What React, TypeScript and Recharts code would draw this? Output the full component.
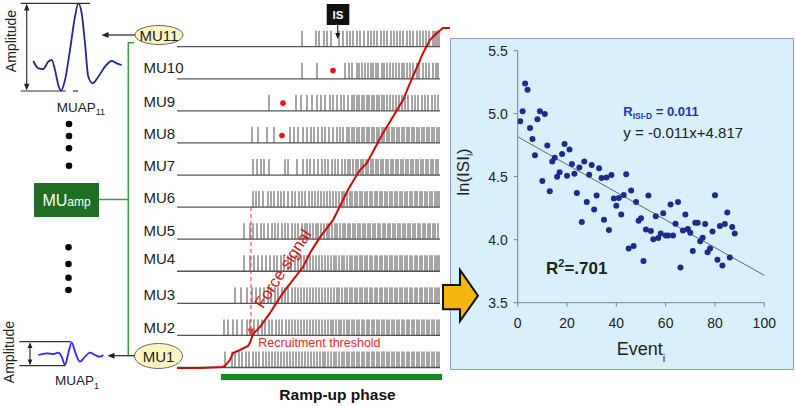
import React from 'react';
import { ComposedChart, ScatterChart, LineChart, Scatter, Line, XAxis, YAxis, ReferenceLine } from 'recharts';

const FONT = '"Liberation Sans", Arial, Helvetica, sans-serif';

// ---------- Scatter panel data: ln(ISI_i) vs Event_i ----------
const eventIndex = [
  1, 2, 3, 4, 5, 6, 7, 8, 9, 10, 11, 12, 13, 14, 15, 16, 17, 18, 19, 20, 21, 22,
  23, 24, 25, 26, 27, 28, 29, 30, 31, 32, 33, 34, 35, 36, 37, 38, 39, 40, 41, 42, 43, 44,
  45, 46, 47, 48, 49, 50, 51, 52, 53, 54, 55, 56, 57, 58, 59, 60, 61, 62, 63, 64, 65, 66,
  67, 68, 69, 70, 71, 72, 73, 74, 75, 76, 77, 78, 79, 80, 81, 82, 83, 84, 85, 86, 87, 88,
];
const lnIsi = [
  4.94, 5.02, 5.24, 5.19, 4.886, 4.8, 4.67, 4.955, 5.02, 4.466, 4.997, 4.747, 4.384, 4.62, 4.65, 4.5, 4.535, 4.68, 4.76, 4.508, 4.715, 4.6,
  4.524, 4.37, 4.574, 4.14, 4.62, 4.3, 4.516, 4.593, 4.24, 4.35, 4.567, 4.49, 4.158, 4.494, 4.076, 4.513, 4.326, 4.27, 4.33, 4.2, 4.355, 4.52,
  3.93, 4.39, 3.95, 4.3, 4.15, 4.17, 3.83, 4.08, 4.35, 4.07, 4.003, 4.187, 4.013, 4.05, 4.21, 4.034, 4.034, 4.28, 4.034, 4.126, 4.3, 3.78,
  4.074, 4.2, 4.084, 4.055, 3.91, 4.134, 4.134, 3.987, 4.016, 4.124, 3.9, 3.93, 4.066, 4.353, 3.84, 4.108, 3.795, 4.124, 4.216, 3.858, 4.1, 4.05,
];
const trendX = [0, 100];
const trendY = [4.817, 3.717];
const xTicks = [0, 20, 40, 60, 80, 100];
const yTicks = [3.5, 4.0, 4.5, 5.0, 5.5];

// ---------- Spike trains (time in a.u., 0..270) ----------
const muRows = [1, 2, 3, 4, 5, 6, 7, 8, 9, 10, 11];
const spikesMU1 = [48, 55, 58, 62, 65, 69, 72, 76, 79, 82, 86, 89, 92, 95, 98, 101, 104, 107, 110, 113, 116, 119, 122, 125, 128, 131, 134, 137, 140, 143, 146, 148, 151, 154, 157, 159, 162, 165, 167, 170, 172, 175, 177, 180, 182, 185, 187, 190, 192, 195, 197, 200, 202, 205, 207, 210, 212, 215, 217, 220, 222, 225, 227, 230, 232, 235, 237, 240, 242, 245, 247, 250, 252, 255, 257, 260, 262];
const spikesMU2 = [47, 51, 56, 60, 65, 70, 73, 77, 81, 85, 88, 92, 95, 99, 102, 105, 109, 112, 115, 118, 121, 124, 127, 130, 133, 136, 139, 142, 145, 148, 151, 154, 156, 159, 162, 164, 167, 170, 172, 175, 177, 180, 182, 185, 187, 190, 192, 195, 197, 200, 202, 205, 207, 210, 212, 215, 217, 220, 222, 225, 227, 230, 232, 235, 237, 240, 242, 245, 247, 250, 252, 255, 257, 260, 262];
const spikesMU3 = [58, 64, 70, 75, 79, 83, 87, 91, 94, 98, 101, 105, 108, 111, 115, 118, 121, 124, 127, 130, 133, 136, 139, 142, 145, 148, 151, 154, 157, 160, 162, 165, 168, 170, 173, 175, 178, 180, 183, 185, 188, 190, 193, 195, 198, 200, 203, 205, 208, 210, 213, 215, 218, 220, 223, 225, 228, 230, 233, 235, 238, 240, 243, 245, 248, 250, 253, 255, 258, 260, 262];
const spikesMU4 = [67, 73, 77, 81, 85, 89, 93, 97, 100, 104, 107, 111, 114, 118, 121, 124, 127, 130, 133, 136, 139, 142, 145, 148, 151, 154, 157, 159, 162, 165, 167, 170, 173, 175, 178, 180, 183, 185, 188, 190, 193, 195, 198, 200, 203, 205, 208, 210, 213, 215, 218, 220, 223, 225, 228, 230, 233, 235, 238, 240, 243, 245, 248, 250, 253, 255, 258, 260, 262];
const spikesMU5 = [67, 73, 76, 80, 84, 87, 91, 95, 98, 101, 105, 108, 111, 115, 118, 121, 125, 128, 130, 133, 136, 139, 141, 144, 147, 150, 152, 155, 158, 160, 163, 166, 168, 171, 173, 176, 178, 181, 183, 186, 188, 191, 193, 196, 198, 201, 203, 206, 208, 211, 213, 216, 218, 221, 223, 226, 228, 231, 233, 236, 238, 241, 243, 246, 248, 251, 253, 256, 258, 261];
const spikesMU6 = [76, 79, 82, 86, 91, 94, 97, 101, 104, 107, 111, 115, 118, 122, 125, 128, 132, 135, 138, 141, 144, 147, 150, 153, 156, 159, 162, 165, 167, 170, 173, 175, 178, 180, 183, 185, 188, 190, 193, 195, 198, 200, 203, 205, 208, 210, 213, 215, 218, 220, 223, 225, 228, 230, 233, 235, 238, 240, 243, 245, 248, 250, 253, 255, 258, 260, 262];
const spikesMU7 = [76, 80, 84, 87, 92, 108, 111, 120, 126, 130, 133, 137, 141, 145, 148, 151, 155, 158, 161, 165, 168, 171, 173, 176, 179, 181, 184, 186, 189, 191, 194, 196, 199, 201, 204, 206, 209, 211, 214, 216, 219, 221, 224, 226, 229, 231, 234, 236, 239, 241, 244, 246, 249, 251, 254, 256, 259, 261];
const spikesMU8 = [75, 81, 90, 97, 113, 117, 121, 126, 130, 134, 137, 141, 145, 148, 152, 156, 160, 163, 166, 170, 172, 175, 177, 180, 182, 185, 187, 190, 192, 195, 197, 200, 202, 205, 207, 210, 212, 215, 217, 220, 222, 225, 227, 230, 232, 235, 237, 240, 242, 245, 247, 250, 252, 255, 257, 260, 262];
const spikesMU9 = [92, 119, 124, 130, 135, 140, 144, 148, 153, 156, 160, 164, 167, 171, 175, 177, 180, 182, 185, 187, 190, 192, 195, 197, 200, 202, 205, 207, 210, 213, 216, 219, 222, 225, 228, 231, 235, 238, 241, 245, 248, 251, 255, 258, 261];
const spikesMU10 = [125, 140, 168, 172, 175, 180, 182, 185, 188, 191, 194, 196, 199, 201, 205, 207, 210, 213, 216, 219, 222, 225, 227, 230, 233, 236, 240, 242, 246, 249, 252, 256, 259, 261];
const spikesMU11 = [125, 139, 142, 147, 150, 154, 162, 166, 170, 173, 176, 180, 183, 187, 191, 194, 197, 200, 204, 207, 210, 214, 217, 220, 223, 226, 230, 233, 236, 240, 243, 246, 249, 252, 256, 258, 260, 262];
const spikeRows = [spikesMU1, spikesMU2, spikesMU3, spikesMU4, spikesMU5, spikesMU6, spikesMU7, spikesMU8, spikesMU9, spikesMU10, spikesMU11];

// missing-discharge markers (red dots)
const missedTime = [156, 106, 105];
const missedRow = [10.26, 9.24, 8.23];

// Force signal (% of max) over the same time axis
const forceTime = [0, 23, 45, 48, 53, 56, 63, 71, 73, 76, 83, 93, 98, 106, 116, 126, 133, 143, 156, 166, 171, 178, 183, 190, 198, 206, 213, 220, 226, 233, 240, 246, 253, 260, 266, 273];
const forceLevel = [0, 0, 0.3, 0.6, 2.4, 4.4, 5.3, 6.5, 7.4, 10, 12.1, 16.2, 18.5, 22.1, 25.9, 29.7, 33.8, 38.5, 43.5, 49.4, 52.4, 55.9, 58.2, 60.3, 64.7, 69.1, 72.4, 75.9, 78.8, 83.8, 88.5, 92.6, 96.5, 98.5, 100, 100];

// MUAP waveforms
const muap11Time = [0.3, 5.3, 10.3, 15.3, 18.7, 22, 25.3, 28, 32, 37, 42, 45.3, 48.7, 52, 55.3, 59.7, 65.3, 72, 78.7, 83.7, 88.7];
const muap11Amp = [0, -7.3, -8, -0.7, 1, -9, -24, -29.7, -19, 11, 44.3, 57.7, 47.7, 17.7, -15.7, -22.3, -15.7, -5.7, 0, -2.3, -4];
const muap1Time = [0.3, 8.7, 15.3, 20.3, 23.7, 27, 30.3, 33.7, 37, 42, 47, 52, 57, 62, 65.3];
const muap1Amp = [0, 1.7, 1, 2.3, -1.7, -10, 1.7, 12.3, 3.3, -6.7, -1.7, 2.3, 0, -1.7, 0];

const muLabels = ['MU2', 'MU3', 'MU4', 'MU5', 'MU6', 'MU7', 'MU8', 'MU9', 'MU10'];

// ---------- derived tables ----------
const scatterData = eventIndex.map((e, i) => ({ x: e, y: lnIsi[i] }));
const spikeData = spikeRows.map((arr, k) => arr.map((t) => ({ t, row: muRows[k] })));
const missedData = missedTime.map((t, i) => ({ t, row: missedRow[i] }));
const forceData = forceTime.map((t, i) => ({ t, f: forceLevel[i] }));
const muap11Data = muap11Time.map((t, i) => ({ t, v: muap11Amp[i] }));
const muap1Data = muap1Time.map((t, i) => ({ t, v: muap1Amp[i] }));

const Spike = (p: any) => (
  <line x1={p.cx} x2={p.cx} y1={p.cy} y2={p.cy - 16} stroke="#4d4d4d" strokeWidth={1} />
);
const RedDot = (p: any) => <circle cx={p.cx} cy={p.cy} r={2.8} fill="#ee1111" />;
const BlueDot = (p: any) => <circle cx={p.cx} cy={p.cy} r={3} fill="#1c2b8f" />;
const NoMark = () => <g />;

export default function App() {
  return (
    <div style={{ position: 'absolute', left: 0, top: 0, width: 796, height: 406, background: '#fff', overflow: 'hidden', fontFamily: FONT }}>
      {/* scatter panel background */}
      <div style={{ position: 'absolute', left: 450, top: 38, width: 344, height: 332, background: '#d7f0fb', border: '1.5px solid #8aa0cc', boxSizing: 'border-box' }} />
      <div style={{ position: 'absolute', left: 450, top: 38 }}>
        <ScatterChart width={344} height={332} margin={{ top: 12.7, right: 29.7, bottom: 0, left: 0 }}>
          <XAxis type="number" dataKey="x" domain={[0, 100]} ticks={xTicks} height={67.3} tickSize={4} tickMargin={11}
            axisLine={{ stroke: '#808080' }} tickLine={{ stroke: '#808080' }} tick={{ fill: '#222', fontSize: 14, fontFamily: FONT }} allowDataOverflow />
          <YAxis type="number" dataKey="y" domain={[3.5, 5.5]} ticks={yTicks} width={67.7} tickSize={4} tickMargin={6}
            tickFormatter={(v: number) => v.toFixed(1)}
            axisLine={{ stroke: '#808080' }} tickLine={{ stroke: '#808080' }} tick={{ fill: '#222', fontSize: 14, fontFamily: FONT }} allowDataOverflow />
          <ReferenceLine segment={[{ x: trendX[0], y: trendY[0] }, { x: trendX[1], y: trendY[1] }]} stroke="#666" strokeWidth={1} ifOverflow="visible" />
          <Scatter data={scatterData} isAnimationActive={false} shape={BlueDot} />
        </ScatterChart>
      </div>

      {/* spike trains + force signal */}
      <div style={{ position: 'absolute', left: 0, top: 0 }}>
        <ComposedChart width={450} height={406} margin={{ top: 0, right: 0, bottom: 0, left: 0 }}>
          <XAxis type="number" dataKey="t" domain={[-177, 273]} hide allowDataOverflow />
          <YAxis yAxisId="row" type="number" dataKey="row" domain={[-0.2, 12.456]} hide allowDataOverflow />
          <YAxis yAxisId="force" type="number" dataKey="f" domain={[-11.176, 108.235]} hide allowDataOverflow />
          {muRows.map((r) => (
            <ReferenceLine key={'b' + r} yAxisId="row" segment={[{ x: 0, y: r }, { x: 263, y: r }]} stroke="#555" strokeWidth={1.3} ifOverflow="visible" />
          ))}
          {spikeData.map((d, k) => (
            <Scatter key={'s' + k} yAxisId="row" data={d} isAnimationActive={false} shape={Spike} />
          ))}
          <Scatter yAxisId="row" data={missedData} isAnimationActive={false} shape={RedDot} />
          <Scatter yAxisId="force" data={forceData} isAnimationActive={false} shape={NoMark}
            line={{ stroke: '#cc0a0a', strokeWidth: 2 }} lineType="joint" />
        </ComposedChart>
      </div>

      {/* MUAP 11 */}
      <div style={{ position: 'absolute', left: 30, top: 0 }}>
        <LineChart width={95} height={94} margin={{ top: 3, right: 3, bottom: 3, left: 3 }}>
          <XAxis type="number" dataKey="t" domain={[0, 89]} hide />
          <YAxis type="number" dataKey="v" domain={[-30, 58]} hide />
          <Line data={muap11Data} dataKey="v" type="monotone" stroke="#1f2a8c" strokeWidth={1.8} dot={false} activeDot={false} isAnimationActive={false} />
        </LineChart>
      </div>
      {/* MUAP 1 */}
      <div style={{ position: 'absolute', left: 35, top: 338 }}>
        <LineChart width={72} height={31} margin={{ top: 3, right: 3, bottom: 3, left: 3 }}>
          <XAxis type="number" dataKey="t" domain={[0, 66]} hide />
          <YAxis type="number" dataKey="v" domain={[-11, 14]} hide />
          <Line data={muap1Data} dataKey="v" type="monotone" stroke="#2a2af0" strokeWidth={1.8} dot={false} activeDot={false} isAnimationActive={false} />
        </LineChart>
      </div>

      {/* annotations */}
      <svg width={796} height={406} style={{ position: 'absolute', left: 0, top: 0, pointerEvents: 'none' }} fontFamily={FONT}>
        {/* MUAP11 amplitude bracket */}
        <g stroke="#333" strokeWidth={1.2}>
          <line x1={20.7} y1={3.3} x2={90} y2={3.3} />
          <line x1={20.7} y1={91} x2={66} y2={91} />
          <line x1={73} y1={91} x2={78} y2={91} />
          <line x1={26.7} y1={8} x2={26.7} y2={86} />
        </g>
        <polygon points="26.7,3.8 24,10.5 29.4,10.5" fill="#222" />
        <polygon points="26.7,90.5 24,83.8 29.4,83.8" fill="#222" />
        <text transform="translate(16,41) rotate(-90)" textAnchor="middle" fontSize={14} fill="#222">Amplitude</text>
        <text x={56.7} y={111.7} fontSize={13.5} fill="#222">MUAP<tspan fontSize={9} dy={3.5}>11</tspan></text>

        {/* MUAP1 amplitude bracket */}
        <g stroke="#333" strokeWidth={1.2}>
          <line x1={19.3} y1={341.7} x2={71} y2={341.7} />
          <line x1={19.3} y1={365.7} x2={65} y2={365.7} />
          <line x1={30} y1={346} x2={30} y2={361} />
        </g>
        <polygon points="30,342.2 27.6,348 32.4,348" fill="#222" />
        <polygon points="30,365.2 27.6,359.4 32.4,359.4" fill="#222" />
        <text transform="translate(13.5,352) rotate(-90)" textAnchor="middle" fontSize={14} fill="#222">Amplitude</text>
        <text x={55} y={385} fontSize={13.5} fill="#222">MUAP<tspan fontSize={9} dy={3.5}>1</tspan></text>

        {/* dots */}
        {[124, 136, 148.3, 165.7].map((y) => <circle key={'d1' + y} cx={69} cy={y} r={3.3} fill="#000" />)}
        {[247.3, 264, 277.7, 290].map((y) => <circle key={'d2' + y} cx={68.5} cy={y} r={3.3} fill="#000" />)}

        {/* MUamp box + green bracket */}
        <rect x={34} y={183} width={65} height={34} fill="#1f6e22" />
        <text x={66.5} y={206} textAnchor="middle" fill="#fff" fontSize={16}>MU<tspan fontSize={12}>amp</tspan></text>
        <path d="M134,42.7 H128.3 V355.7" fill="none" stroke="#3f9a3f" strokeWidth={1.5} />
        <line x1={99} y1={199.5} x2={128.3} y2={199.5} stroke="#3f9a3f" strokeWidth={1.5} />

        {/* ellipses and arrows */}
        <line x1={107} y1={35} x2={135} y2={35} stroke="#222" strokeWidth={1.2} />
        <polygon points="101.5,35 108.5,32 108.5,38" fill="#222" />
        <ellipse cx={159} cy={35} rx={24} ry={9.5} fill="#fbf5bf" stroke="#666" strokeWidth={1} />
        <text x={159} y={40.5} textAnchor="middle" fontSize={15} fill="#222">MU11</text>
        <line x1={113} y1={355.7} x2={134.5} y2={355.7} stroke="#222" strokeWidth={1.2} />
        <polygon points="107.5,355.7 114.5,352.7 114.5,358.7" fill="#222" />
        <ellipse cx={158.5} cy={356} rx={24} ry={12.5} fill="#fbf5bf" stroke="#666" strokeWidth={1} />
        <text x={158.5} y={361.5} textAnchor="middle" fontSize={15} fill="#222">MU1</text>

        {/* MU labels */}
        {muLabels.map((lab, i) => (
          <text key={lab} x={143.5} y={[332.7, 299.5, 264, 236, 203, 170.7, 139.3, 106.7, 73.3][i]} fontSize={15} fill="#222">{lab}</text>
        ))}

        {/* IS marker */}
        <rect x={326.7} y={4} width={22.6} height={21} fill="#111" />
        <text x={338} y={19} textAnchor="middle" fontSize={11.5} fontWeight="bold" fill="#fff">IS</text>
        <line x1={337.7} y1={25} x2={337.7} y2={34} stroke="#111" strokeWidth={1} />
        <polygon points="337.7,39 335.2,33 340.2,33" fill="#111" />

        {/* recruitment threshold */}
        <line x1={251} y1={207} x2={251} y2={329} stroke="#ee3333" strokeWidth={1} strokeDasharray="4 3" />
        <polygon points="251,336 247.5,328.5 254.5,328.5" fill="#ee3333" />
        <text x={258.3} y={346.7} fontSize={12.5} fill="#ee2a2a">Recruitment threshold</text>
        <text transform="translate(282.5,268.5) rotate(-56.8)" textAnchor="middle" dominantBaseline="central" fontSize={16.5} fill="#d61010">Force signal</text>

        {/* ramp-up phase */}
        <rect x={221} y={374} width={221} height={6} fill="#13891b" />
        <text x={337.5} y={400} textAnchor="middle" fontSize={15.5} fontWeight="bold" fill="#111">Ramp-up phase</text>

        {/* yellow arrow */}
        <polygon points="443,285 460,285 460,270 478,295.7 460,321 460,309.3 443,309.3" fill="#f6b40e" stroke="#111" strokeWidth={2} strokeLinejoin="miter" />

        {/* scatter annotations */}
        <text transform="translate(469,172) rotate(-90)" textAnchor="middle" fontSize={17} fill="#222">ln(ISI<tspan fontSize={10} dy={4}>i</tspan><tspan dy={-4}>)</tspan></text>
        <text x={616.7} y={355} fontSize={18} fill="#222">Event<tspan fontSize={11} dy={7}>i</tspan></text>
        <text x={623.3} y={116} fontSize={13} fontWeight="bold" fill="#2233b8">R<tspan fontSize={8.5} dy={3}>ISI-D</tspan><tspan dy={-3}> = 0.011</tspan></text>
        <text x={623.3} y={138.3} fontSize={15} fill="#222">y = -0.011x+4.817</text>
        <text x={546} y={274.3} fontSize={17} fontWeight="bold" fill="#222">R<tspan fontSize={11} dy={-7}>2</tspan><tspan dy={7}>=.701</tspan></text>
      </svg>
    </div>
  );
}
